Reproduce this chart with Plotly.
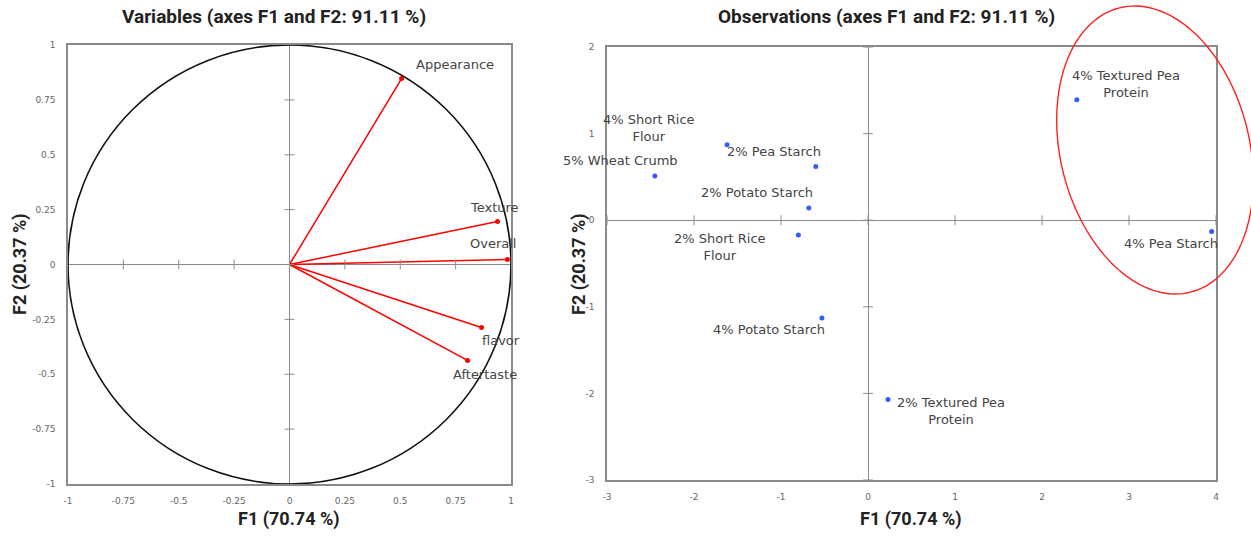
import numpy as np
import plotly.graph_objects as go

# ---------------- data ----------------
var_names = ["Appearance", "Texture", "Overall", "flavor", "Aftertaste"]
var_f1 = [0.506, 0.939, 0.984, 0.867, 0.804]
var_f2 = [0.847, 0.196, 0.023, -0.287, -0.437]

obs_names = ["4% Textured Pea<br>Protein", "4% Pea Starch", "4% Short Rice<br>Flour",
             "5% Wheat Crumb", "2% Pea Starch", "2% Potato Starch",
             "2% Short Rice<br>Flour", "4% Potato Starch", "2% Textured Pea<br>Protein"]
obs_f1 = [2.40, 3.95, -1.62, -2.45, -0.60, -0.68, -0.80, -0.53, 0.23]
obs_f2 = [1.39, -0.13, 0.87, 0.51, 0.62, 0.14, -0.17, -1.13, -2.07]

var_ticks = [-1, -0.75, -0.5, -0.25, 0, 0.25, 0.5, 0.75, 1]
var_ticklabels = ["-1", "-0.75", "-0.5", "-0.25", "0", "0.25", "0.5", "0.75", "1"]
obs_xticks = [-3, -2, -1, 0, 1, 2, 3, 4]
obs_xticklabels = ["-3", "-2", "-1", "0", "1", "2", "3", "4"]
obs_yticks = [-3, -2, -1, 0, 1, 2]
obs_yticklabels = ["-3", "-2", "-1", "0", "1", "2"]

title_left = "Variables (axes F1 and F2: 91.11 %)"
title_right = "Observations (axes F1 and F2: 91.11 %)"
xlabel = "F1 (70.74 %)"
ylabel = "F2 (20.37 %)"

# ---------------- style / layout ----------------
W, H = 1251, 540
# label offsets in pixels (dx, dy up)
var_offsets = [(53, 14), (-3, 14), (-14, 16), (19, -13), (17, -14)]
obs_offsets = [(49, 16), (-41, -12), (-78, 17), (-34, 16), (-42, 15), (-52, 16),
               (-78, -12), (-53, -11), (63, -12)]

L_px = (68, 511, 45, 484)   # left, right, top, bottom
R_px = (607, 1216, 47, 480)

def dom(px):
    l, r, t, b = px
    return [l / W, r / W], [1 - b / H, 1 - t / H]

lx, ly = dom(L_px)
rx, ry = dom(R_px)

GRAY = "#8a8a8a"
TXT = "#444444"
TICKF = dict(family="DejaVu Sans", size=9, color="#666666")
LABF = dict(family="DejaVu Sans", size=13, color=TXT)

fig = go.Figure()

# vectors
for n, x, y in zip(var_names, var_f1, var_f2):
    fig.add_trace(go.Scatter(x=[0, x], y=[0, y], mode="lines",
                             line=dict(color="#ff0000", width=1.5),
                             xaxis="x", yaxis="y", showlegend=False, hoverinfo="skip"))
fig.add_trace(go.Scatter(x=var_f1, y=var_f2, mode="markers",
                         marker=dict(color="#ff0000", size=5),
                         xaxis="x", yaxis="y", showlegend=False, text=var_names))

# tick crosses on zero lines (left)
fig.add_trace(go.Scatter(x=var_ticks, y=[0] * len(var_ticks), mode="markers",
                         marker=dict(symbol="line-ns", size=7, line=dict(color=GRAY, width=1)),
                         xaxis="x", yaxis="y", showlegend=False, hoverinfo="skip"))
fig.add_trace(go.Scatter(x=[0] * len(var_ticks), y=var_ticks, mode="markers",
                         marker=dict(symbol="line-ew", size=7, line=dict(color=GRAY, width=1)),
                         xaxis="x", yaxis="y", showlegend=False, hoverinfo="skip"))

# observations
fig.add_trace(go.Scatter(x=obs_f1, y=obs_f2, mode="markers",
                         marker=dict(color="#2f5dff", size=5),
                         xaxis="x2", yaxis="y2", showlegend=False, text=obs_names))
fig.add_trace(go.Scatter(x=obs_xticks, y=[0] * len(obs_xticks), mode="markers",
                         marker=dict(symbol="line-ns", size=7, line=dict(color=GRAY, width=1)),
                         xaxis="x2", yaxis="y2", showlegend=False, hoverinfo="skip"))
fig.add_trace(go.Scatter(x=[0] * len(obs_yticks), y=obs_yticks, mode="markers",
                         marker=dict(symbol="line-ew", size=7, line=dict(color=GRAY, width=1)),
                         xaxis="x2", yaxis="y2", showlegend=False, hoverinfo="skip"))

annotations = []
for n, x, y, (dx, dy) in zip(var_names, var_f1, var_f2, var_offsets):
    annotations.append(dict(x=x, y=y, xref="x", yref="y", text=n, showarrow=False,
                            xshift=dx, yshift=dy, font=LABF,
                            xanchor="center", yanchor="middle"))
for n, x, y, (dx, dy) in zip(obs_names, obs_f1, obs_f2, obs_offsets):
    annotations.append(dict(x=x, y=y, xref="x2", yref="y2", text=n, showarrow=False,
                            xshift=dx, yshift=dy, font=LABF, align="center",
                            xanchor="center", yanchor="middle"))

TF = dict(family="Roboto", size=19, color="#222222")
AF = dict(family="Roboto", size=18, color="#222222")

def pan(text, px, py, font, angle=0):
    return dict(x=px / W, y=1 - py / H, xref="paper", yref="paper", text="<b>%s</b>" % text,
                showarrow=False, font=font, textangle=angle,
                xanchor="center", yanchor="middle")

annotations += [
    pan(title_left, 274, 17, TF),
    pan(title_right, 886, 17, TF),
    pan(xlabel, 289, 519, AF),
    pan(xlabel, 911, 519, AF),
    pan(ylabel, 20, 264, AF, -90),
    pan(ylabel, 579, 264, AF, -90),
]

# ellipse highlight (pixel geometry -> paper), proper rotation, top tilted left
cx, cy, a, b, th = 1155, 150, 146.5, 94.5, np.deg2rad(14)
t = np.linspace(0, 2 * np.pi, 145)
u, v = b * np.cos(t), a * np.sin(t)
sx = cx + u * np.cos(th) - v * np.sin(th)
sy = cy - (u * np.sin(th) + v * np.cos(th))
path = "M " + " L ".join("%.5f,%.5f" % (X / W, 1 - Y / H) for X, Y in zip(sx, sy)) + " Z"

shapes = [
    dict(type="circle", xref="x", yref="y", x0=-1, x1=1, y0=-1, y1=1,
         line=dict(color="#111111", width=1.6), layer="above"),
    dict(type="path", xref="paper", yref="paper", path=path,
         line=dict(color="#ff2020", width=1.4)),
]

axcommon = dict(showgrid=False, zeroline=True, zerolinecolor=GRAY, zerolinewidth=1,
                showline=True, linecolor=GRAY, linewidth=1.5, mirror=True,
                ticks="", tickfont=TICKF, fixedrange=True, automargin=False)

fig.update_layout(
    width=W, height=H, margin=dict(l=0, r=0, t=0, b=0, autoexpand=False),
    paper_bgcolor="white", plot_bgcolor="white",
    xaxis=dict(domain=lx, range=[-1, 1], tickvals=var_ticks, ticktext=var_ticklabels,
               anchor="y", ticklabelstandoff=7, **axcommon),
    yaxis=dict(domain=ly, range=[-1, 1], tickvals=var_ticks, ticktext=var_ticklabels,
               anchor="x", ticklabelstandoff=9, **axcommon),
    xaxis2=dict(domain=rx, range=[-3, 4], tickvals=obs_xticks, ticktext=obs_xticklabels,
                anchor="y2", ticklabelstandoff=7, **axcommon),
    yaxis2=dict(domain=ry, range=[-3, 2], tickvals=obs_yticks, ticktext=obs_yticklabels,
                anchor="x2", ticklabelstandoff=9, **axcommon),
    annotations=annotations, shapes=shapes,
)

fig.write_html("out.html")
